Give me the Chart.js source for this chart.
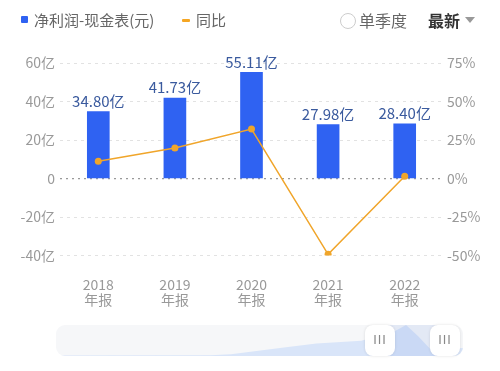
<!DOCTYPE html>
<html>
<head>
<meta charset="utf-8">
<script src="https://cdn.jsdelivr.net/npm/chart.js@4.4.0/dist/chart.umd.min.js"></script>
<style>
  body { margin: 0; background: #fff; font-family: "Noto Sans CJK SC", "Noto Sans", sans-serif; }
  #wrap { position: relative; width: 500px; height: 371px; overflow: hidden; }
  #main { position: absolute; left: 0; top: 0; }
  .hd { position: absolute; top: 9px; font-size: 15px; color: #666; line-height: 22px; white-space: nowrap; }
  #slider { position: absolute; left: 56px; top: 325px; width: 407px; height: 31px; background: #f6f7f9; border-radius: 9px; overflow: hidden; }
  #shadow { position: absolute; left: 0; top: 0; }
  #sel { position: absolute; left: 324px; top: 0; width: 65px; height: 31px; background: rgba(110, 150, 230, 0.14); }
  .handle { position: absolute; top: 325px; width: 30px; height: 31px; background: #fff; border-radius: 8px;
            box-shadow: 0 0 3px rgba(0,0,0,0.12); color: #888; font-size: 12px; line-height: 31px; text-align: center; letter-spacing: 1px; font-family: "DejaVu Sans", sans-serif; }
</style>
</head>
<body>
<div id="wrap">
  <canvas id="main" width="500" height="371"></canvas>

  <div class="hd" style="left:21px;top:16px;width:7px;height:7px;background:#2f62f2;border-radius:1px;"></div>
  <div class="hd" style="left:34px;">净利润-现金表(元)</div>
  <div class="hd" style="left:182px;top:19px;width:8px;height:3px;background:#f5a623;border-radius:1px;"></div>
  <div class="hd" style="left:196px;">同比</div>
  <div class="hd" style="left:340px;top:13px;width:14px;height:14px;border:1px solid #ccc;border-radius:50%;"></div>
  <div class="hd" style="left:359px;font-size:16px;">单季度</div>
  <div class="hd" style="left:428px;font-size:16px;font-weight:bold;color:#333;">最新</div>
  <div class="hd" style="left:465px;top:17px;width:0;height:0;border-left:5px solid transparent;border-right:5px solid transparent;border-top:6px solid #999;"></div>

  <div id="slider">
    <canvas id="shadow" width="407" height="31"></canvas>
    <div id="sel"></div>
  </div>
  <div class="handle" style="left:365px;">III</div>
  <div class="handle" style="left:430px;">III</div>
</div>

<script>
var years = ["2018", "2019", "2020", "2021", "2022"];
var netProfit = [34.80, 41.73, 55.11, 27.98, 28.40];
var yoy = [11.2, 19.9, 32.1, -49.2, 1.5];
var leftTicks = [-40, -20, 0, 20, 40, 60];
var rightTicks = [-50, -25, 0, 25, 50, 75];

// full-history shadow shown in the zoom slider
var shadowPos = [0, 38, 43, 56, 64, 75, 83, 86, 89, 92, 100];
var shadowValues = [0.8, 1.5, 3, 15, 22, 27, 43, 55, 35, 12, 14];

var barLabels = {
    id: "barLabels",
    afterDatasetsDraw: function(chart) {
        var ctx = chart.ctx;
        var meta = chart.getDatasetMeta(1);
        ctx.save();
        ctx.font = "15px 'Noto Sans CJK SC'";
        ctx.fillStyle = "#3a5a9e";
        ctx.textAlign = "center";
        ctx.textBaseline = "bottom";
        meta.data.forEach(function(bar, i) {
            ctx.fillText(netProfit[i].toFixed(2) + "亿", bar.x, bar.y - 3);
        });
        ctx.restore();
    }
};

var tickFont = { family: "Noto Sans CJK SC", size: 14 };

new Chart(document.getElementById("main"), {
    type: "bar",
    data: {
        labels: years.map(function(y) { return [y, "年报"]; }),
        datasets: [{
            type: "line",
            label: "同比",
            data: yoy,
            yAxisID: "y1",
            borderColor: "#f0a52a",
            backgroundColor: "#f0a52a",
            borderWidth: 1.5,
            pointRadius: 3.5,
            pointBorderWidth: 0,
            tension: 0,
            order: 1
        }, {
            label: "净利润-现金表(元)",
            data: netProfit,
            yAxisID: "y",
            backgroundColor: "#2f62f2",
            barThickness: 22,
            order: 2
        }]
    },
    options: {
        responsive: false,
        animation: false,
        layout: { padding: { top: 63, bottom: 42, left: 0, right: 0 } },
        plugins: {
            legend: { display: false },
            tooltip: { enabled: false }
        },
        scales: {
            x: {
                grid: { display: false, drawTicks: false },
                border: { display: false },
                ticks: { color: "#999", font: { family: "Noto Sans CJK SC", size: 14, lineHeight: 1.05 }, padding: 22, maxRotation: 0 }
            },
            y: {
                position: "left",
                min: -40, max: 60,
                afterBuildTicks: function(axis) { axis.ticks = leftTicks.map(function(v) { return { value: v }; }); },
                afterFit: function(axis) { axis.width = 60; },
                grid: {
                    drawTicks: false,
                    color: function(c) { return c.tick && c.tick.value === 0 ? "#999" : "#e2e2e2"; },
                    lineWidth: function(c) { return c.tick && c.tick.value === 0 ? 1.3 : 1; }
                },
                border: {
                    display: false,
                    dash: function(c) { return c.tick && c.tick.value === 0 ? [2, 4] : [3, 4]; }
                },
                ticks: {
                    color: "#999", font: tickFont, padding: 5,
                    callback: function(v) { return v === 0 ? "0" : v + "亿"; }
                }
            },
            y1: {
                position: "right",
                min: -50, max: 75,
                afterBuildTicks: function(axis) { axis.ticks = rightTicks.map(function(v) { return { value: v }; }); },
                afterFit: function(axis) { axis.width = 57; },
                grid: { drawOnChartArea: false, drawTicks: false },
                border: { display: false },
                ticks: {
                    color: "#999", font: tickFont, padding: 4,
                    callback: function(v) { return v + "%"; }
                }
            }
        }
    },
    plugins: [barLabels]
});

new Chart(document.getElementById("shadow"), {
    type: "line",
    data: {
        datasets: [{
            data: shadowPos.map(function(p, i) { return { x: p, y: shadowValues[i] }; }),
            fill: "origin",
            backgroundColor: "#d9e5f9",
            borderWidth: 0,
            pointRadius: 0,
            tension: 0
        }]
    },
    options: {
        responsive: false,
        animation: false,
        layout: { padding: 0 },
        plugins: { legend: { display: false }, tooltip: { enabled: false } },
        scales: {
            x: { type: "linear", min: 0, max: 100, display: false },
            y: { min: 0, max: 55, display: false }
        }
    }
});
</script>
</body>
</html>
